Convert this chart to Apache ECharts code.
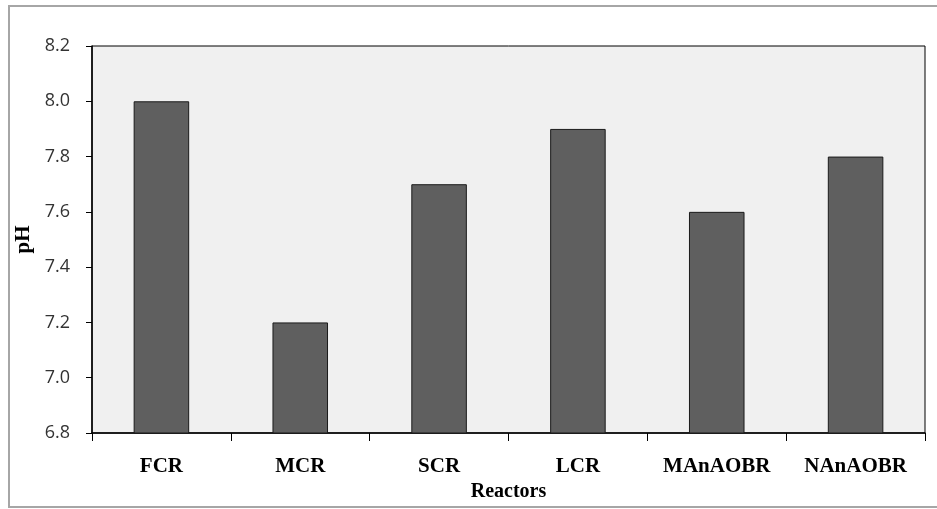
<!DOCTYPE html>
<html>
<head>
<meta charset="utf-8">
<script src="https://cdn.jsdelivr.net/npm/echarts@6/dist/echarts.min.js"></script>
<style>
html,body{margin:0;padding:0;background:#fff;}
#c{width:937px;height:509px;}
</style>
</head>
<body>
<div id="c"></div>
<script>
const categories = ['FCR', 'MCR', 'SCR', 'LCR', 'MAnAOBR', 'NAnAOBR'];
const phValues = [8.0, 7.2, 7.7, 7.9, 7.6, 7.8];
const yMin = 6.8, yMax = 8.2, yStep = 0.2;

const chart = echarts.init(document.getElementById('c'), null, {renderer: 'canvas'});
chart.setOption({
  animation: false,
  backgroundColor: '#ffffff',
  graphic: [{
    type: 'rect',
    shape: {x: 9, y: 6, width: 940, height: 501},
    style: {fill: 'none', stroke: '#a6a6a6', lineWidth: 2},
    silent: true
  }],
  grid: {
    left: 92, right: 12, top: 46, bottom: 76,
    show: true, backgroundColor: '#f0f0f0', borderColor: '#000', borderWidth: 1
  },
  xAxis: {
    type: 'category',
    data: categories,
    boundaryGap: true,
    name: 'Reactors',
    nameLocation: 'middle',
    nameGap: 49,
    nameTextStyle: {fontFamily: 'Liberation Serif', fontWeight: 'bold', fontSize: 20, color: '#000'},
    axisLine: {lineStyle: {color: '#000', width: 1.5}},
    axisTick: {show: true, interval: 0, length: 8, lineStyle: {color: '#000'}},
    axisLabel: {fontFamily: 'Liberation Serif', fontWeight: 'bold', fontSize: 21, color: '#000', margin: 23, interval: 0}
  },
  yAxis: {
    type: 'value',
    min: yMin, max: yMax, interval: yStep,
    name: 'pH',
    nameLocation: 'middle',
    nameGap: 55,
    nameRotate: 90,
    nameTextStyle: {fontFamily: 'Liberation Serif', fontWeight: 'bold', fontSize: 21, color: '#000'},
    axisLine: {show: true, lineStyle: {color: '#000', width: 1.5}},
    axisTick: {show: true, length: 6, inside: false, lineStyle: {color: '#000'}},
    splitLine: {show: false},
    axisLabel: {fontFamily: 'Open Sans', fontSize: 18, color: '#333', margin: 22, formatter: v => v.toFixed(1)}
  },
  series: [{
    type: 'bar',
    data: phValues,
    barWidth: '40%',
    itemStyle: {color: '#5f5f5f', borderColor: '#1a1a1a', borderWidth: 1}
  }]
});
</script>
</body>
</html>
